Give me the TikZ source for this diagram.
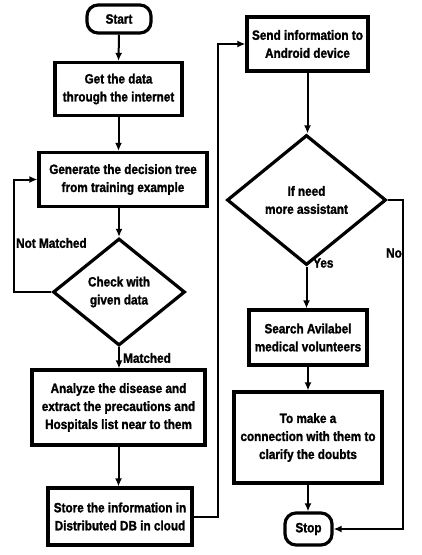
\documentclass[tikz,border=0pt]{standalone}
\usepackage{fontspec}
\setmainfont{Liberation Sans}[FakeStretch=0.87,FakeBold=1.5]
\usetikzlibrary{shapes.geometric,arrows.meta}
\begin{document}
\begin{tikzpicture}[x=1pt,y=-1pt,
  font=\fontsize{13.5}{18}\selectfont\bfseries,
  box/.style={draw,line width=3.2pt,align=center,inner sep=0pt},
  term/.style={box,rounded corners=11pt},
  dec/.style={draw,diamond,line width=3.2pt,align=center,inner sep=0pt},
  arr/.style={line width=2pt,-{Latex[length=8pt,width=7pt]}},
  lbl/.style={anchor=west,inner sep=0pt}]
\useasboundingbox[fill=white] (0,0) rectangle (421,555);
\node[term,minimum width=64pt,minimum height=28pt] (start) at (119,19) {Start};
\node[box,minimum width=127pt,minimum height=53pt] (get) at (118.5,89) {Get the data\\through the internet};
\node[box,minimum width=168pt,minimum height=54pt] (gen) at (123,179.5) {Generate the decision tree\\from training example};
\node[dec,minimum width=132pt,minimum height=107pt] (chk) at (119,292) {Check with\\given data};
\node[box,minimum width=173pt,minimum height=75pt] (ana) at (118.5,407.5) {Analyze the disease and\\extract the precautions and\\Hospitals list near to them};
\node[box,minimum width=144pt,minimum height=57pt] (store) at (120,516.5) {Store the information in\\Distributed DB in cloud};
\node[box,minimum width=121pt,minimum height=54pt] (send) at (307.5,44) {Send information to\\Android device};
\node[dec,minimum width=159pt,minimum height=130pt] (ifn) at (306.5,200) {If need\\more assistant};
\node[box,minimum width=118pt,minimum height=55pt] (search) at (308,337.5) {Search Avilabel\\medical volunteers};
\node[box,minimum width=148pt,minimum height=91pt] (conn) at (308,437.5) {To make a\\connection with them to\\clarify the doubts};
\node[term,minimum width=47pt,minimum height=32pt] (stop) at (308.5,529) {Stop};
\coordinate (lx) at (14,0);
\coordinate (mx) at (218,0);
\coordinate (rx) at (403,0);
\draw[arr] (start.south) -- (get.north);
\draw[arr] (get.south) -- (get.south |- gen.north);
\draw[arr] (gen.south -| chk.north) -- (chk.north);
\draw[arr] (chk.west) -- (chk.west -| lx) -- (lx |- gen.west) -- (gen.west);
\node[lbl] (nm) at (16,243) {Not Matched};
\draw[arr] (chk.south) -- (ana.north -| chk.south);
\node[lbl] (m) at (123,358) {Matched};
\draw[arr] (ana.south) -- (ana.south |- store.north);
\draw[arr] (store.east) -- (store.east -| mx) -- (mx |- send.west) -- (send.west);
\draw[arr] (send.south) -- (send.south |- ifn.north);
\draw[arr] (ifn.south) -- (ifn.south |- search.north);
\node[lbl] (yes) at (313,263) {Yes};
\draw[arr] (ifn.east) -- (ifn.east -| rx) -- (rx |- stop.east) -- (stop.east);
\node[lbl] (no) at (386,253) {No};
\draw[arr] (search.south) -- (search.south |- conn.north);
\draw[arr] (conn.south) -- (conn.south |- stop.north);
\end{tikzpicture}
\end{document}
